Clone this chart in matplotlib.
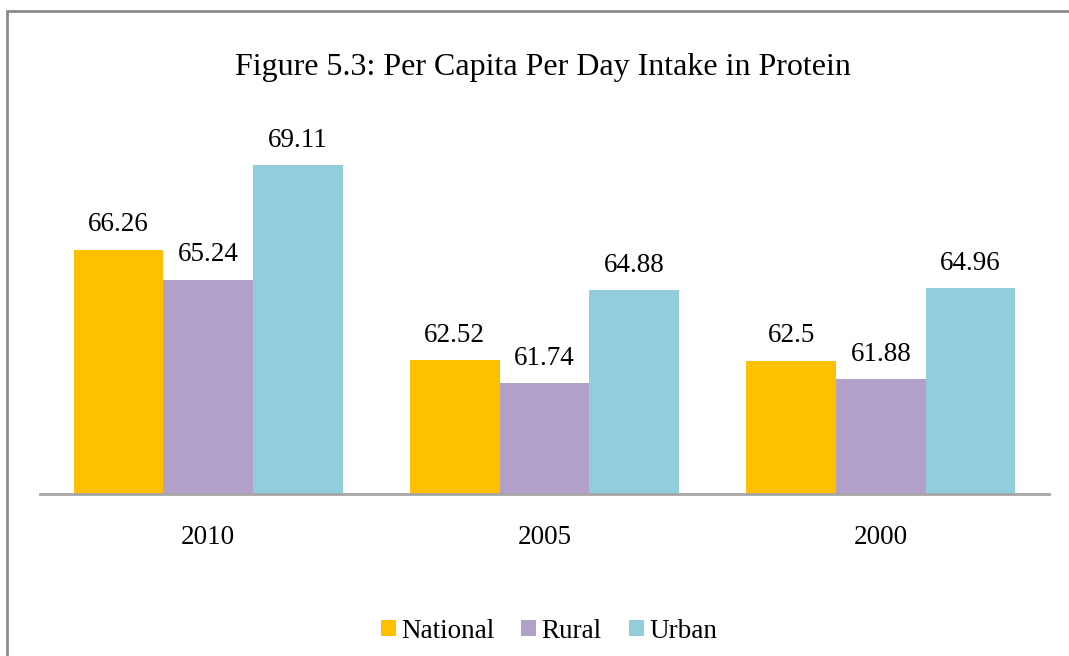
import matplotlib
matplotlib.use("Agg")
import matplotlib.pyplot as plt
import numpy as np
from matplotlib.patches import Rectangle

years = ["2010", "2005", "2000"]
series_names = ["National", "Rural", "Urban"]
national = [66.26, 62.52, 62.5]
rural = [65.24, 61.74, 61.88]
urban = [69.11, 64.88, 64.96]
colors = ["#FFC000", "#B1A0C7", "#92CDDC"]

plt.rcParams['font.family'] = ['Liberation Serif', 'DejaVu Serif']

fig = plt.figure(figsize=(10.69, 6.56), dpi=100)
ax = fig.add_axes([40/1069, (656-494)/656, (1049-40)/1069, (494-139)/656])

x = np.arange(len(years))
bw = 1/3.75
series = [national, rural, urban]
for i, (vals, name, c) in enumerate(zip(series, series_names, colors)):
    pos = x + (i - 1) * bw
    ax.bar(pos, vals, width=bw, color=c, label=name, bottom=0)
    for p, v in zip(pos, vals):
        ax.text(p, v + 0.42, f"{v:g}", ha='center', va='bottom', fontsize=19.5, color='black')

ax.set_ylim(58, 70)
ax.set_xlim(-0.5, len(years) - 0.5)
ax.set_yticks([])
ax.set_xticks(x)
ax.set_xticklabels(years, fontsize=19.5)
ax.tick_params(axis='x', length=0, pad=22)
for s in ['top', 'right', 'left']:
    ax.spines[s].set_visible(False)
ax.spines['bottom'].set_color('#A6A6A6')
ax.spines['bottom'].set_linewidth(2)

fig.text(543/1069, 1 - 68/656, "Figure 5.3: Per Capita Per Day Intake in Protein",
         ha='center', va='center', fontsize=23)

leg = fig.legend(loc='center', bbox_to_anchor=(549/1069, 1 - 631/656), ncol=3,
                 frameon=False, fontsize=19.5, handlelength=0.55, handleheight=0.55,
                 handletextpad=0.2, columnspacing=1.0)

# outer frame (left and top edges visible)
fig.add_artist(Rectangle((7/1069, -0.1), 1.2, 1 - 11/656 + 0.1, transform=fig.transFigure,
                         fill=False, edgecolor='#8C8C8C', linewidth=2))

fig.savefig("out.png", dpi=100)
